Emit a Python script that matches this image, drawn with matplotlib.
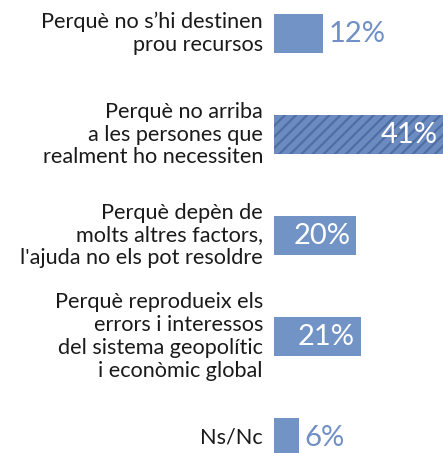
import matplotlib.pyplot as plt

labels = [
    "Perquè no s’hi destinen\nprou recursos",
    "Perquè no arriba\na les persones que\nrealment ho necessiten",
    "Perquè depèn de\nmolts altres factors,\nl'ajuda no els pot resoldre",
    "Perquè reprodueix els\nerrors i interessos\ndel sistema geopolític\ni econòmic global",
    "Ns/Nc",
]
values = [12, 41, 20, 21, 6]
value_labels = ["12%", "41%", "20%", "21%", "6%"]
hatched = [False, True, False, False, False]
inside = [False, True, True, True, False]

plt.rcParams['font.family'] = ['Lato', 'DejaVu Sans']
plt.rcParams['hatch.linewidth'] = 1.6

bar_color = '#7193c6'
stripe_color = '#4f6ea4'
text_blue = '#6f8fc6'

fig = plt.figure(figsize=(4.43, 4.53), dpi=100)
ax = fig.add_axes([274 / 443, 0, 1 - 274 / 443, 1])

ypos = list(range(len(values)))
for y, v, h in zip(ypos, values, hatched):
    if h:
        ax.barh(y, v, height=0.38, color='#6c8cc1', edgecolor=stripe_color,
                hatch='///', linewidth=0)
    else:
        ax.barh(y, v, height=0.38, color=bar_color, linewidth=0)

for y, v, lab, ins in zip(ypos, values, value_labels, inside):
    if ins:
        ax.annotate(lab, (v, y), xytext=(-4, 0), textcoords='offset points',
                    ha='right', va='center', color='white', fontsize=21)
    else:
        ax.annotate(lab, (v, y), xytext=(4, 0), textcoords='offset points',
                    ha='left', va='center', color=text_blue, fontsize=21)

for y, lab in zip(ypos, labels):
    ax.annotate(lab, (0, y), xytext=(-8, 0), textcoords='offset points',
                ha='right', va='center', color='#1a1a1a', fontsize=15.6,
                linespacing=1.18, annotation_clip=False)

ax.set_xlim(0, 41)
ax.set_ylim(4.153, -0.332)
ax.axis('off')

fig.savefig('out.png', dpi=100)
